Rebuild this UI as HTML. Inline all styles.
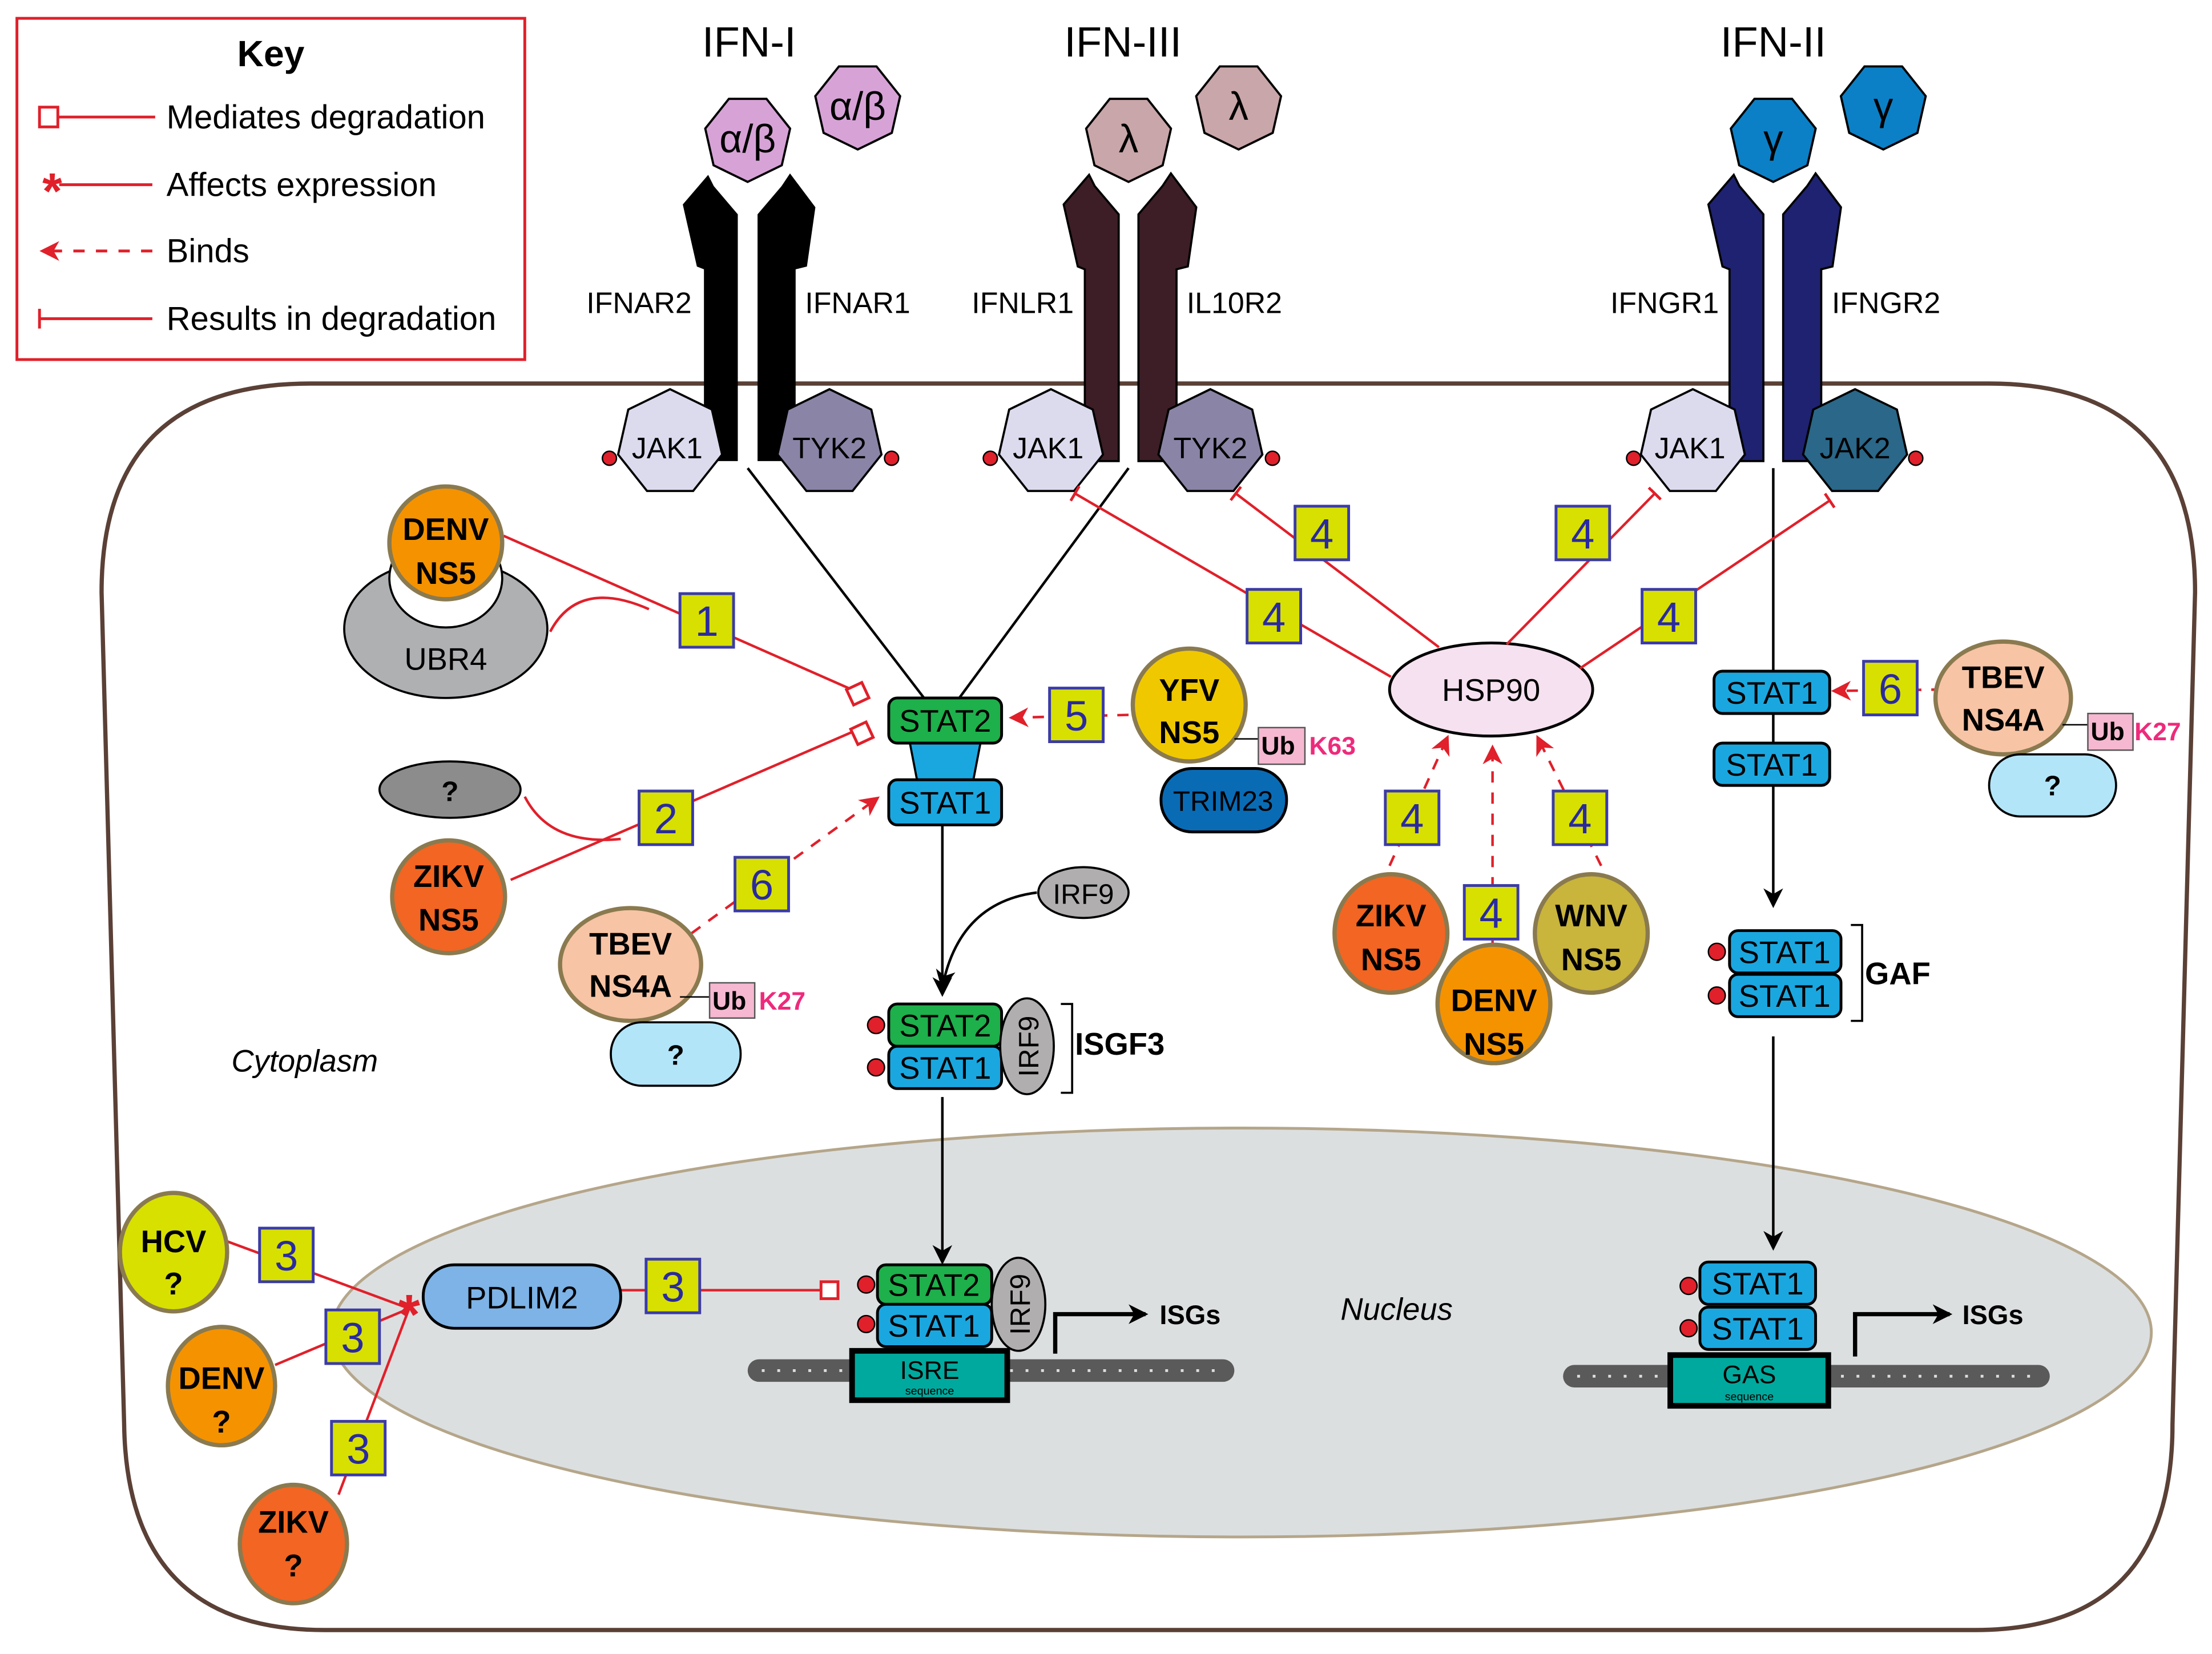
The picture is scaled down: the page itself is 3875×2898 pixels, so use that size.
<!DOCTYPE html>
<html><head><meta charset="utf-8"><style>
html,body{margin:0;padding:0;background:#fff;}
svg{display:block;}
text{font-family:"Liberation Sans",sans-serif;}
</style></head><body>
<svg width="3875" height="2898" viewBox="0 0 1568 1173" preserveAspectRatio="none" xmlns="http://www.w3.org/2000/svg">
<defs>
<polygon id="hep" points="0,-1 0.78,-0.62 0.97,0.22 0.43,0.9 -0.43,0.9 -0.97,0.22 -0.78,-0.62"/>
<marker id="ahr" viewBox="0 0 14 14" markerWidth="14" markerHeight="14" refX="12" refY="7" orient="auto" markerUnits="userSpaceOnUse"><path d="M0,0 L14,7 L0,14 L4,7 Z" fill="#e0202a"/></marker>
<marker id="ab" viewBox="0 0 14 14" markerWidth="14" markerHeight="14" refX="12" refY="7" orient="auto" markerUnits="userSpaceOnUse"><path d="M0,0 L14,7 L0,14 L4,7 Z" fill="#000"/></marker>
<marker id="tb" viewBox="0 0 2 12" markerWidth="2" markerHeight="12" refX="1" refY="6" orient="auto" markerUnits="userSpaceOnUse"><rect x="0" y="0" width="2" height="12" fill="#e0202a"/></marker>
</defs>

<!-- Key -->
<rect x="12" y="13" width="360" height="242" fill="#fff" stroke="#e0202a" stroke-width="2"/>
<text x="192" y="47" font-size="26" font-weight="bold" text-anchor="middle">Key</text>
<rect x="28" y="76" width="13" height="14" fill="#fff" stroke="#e0202a" stroke-width="2"/>
<line x1="41" y1="83" x2="110" y2="83" stroke="#e0202a" stroke-width="2"/>
<text x="118" y="91" font-size="23.5">Mediates degradation</text>
<text x="37" y="148" font-size="36" fill="#e0202a" text-anchor="middle" font-weight="bold">*</text>
<line x1="42" y1="131" x2="108" y2="131" stroke="#e0202a" stroke-width="2"/>
<text x="118" y="139" font-size="23.5">Affects expression</text>
<line x1="108" y1="178" x2="30" y2="178" stroke="#e0202a" stroke-width="2" stroke-dasharray="8,8" marker-end="url(#ahr)"/>
<text x="118" y="186" font-size="23.5">Binds</text>
<line x1="28" y1="219" x2="28" y2="233" stroke="#e0202a" stroke-width="2"/>
<line x1="28" y1="226" x2="108" y2="226" stroke="#e0202a" stroke-width="2"/>
<text x="118" y="234" font-size="23.5">Results in degradation</text>

<!-- Cell -->
<path d="M 220 272 L 1410 272 Q 1556 272 1556 420 L 1540 1010 Q 1540 1156 1400 1156 L 230 1156 Q 90 1156 88 1010 L 72 420 Q 72 272 220 272 Z" fill="#fff" stroke="#5a4036" stroke-width="3"/>
<ellipse cx="880" cy="945" rx="645" ry="145" fill="#dcdfe0" stroke="#b5a68a" stroke-width="2"/>

<!-- IFN labels -->
<text x="531" y="40" font-size="30" text-anchor="middle">IFN-I</text>
<text x="796" y="40" font-size="30" text-anchor="middle">IFN-III</text>
<text x="1257" y="40" font-size="30" text-anchor="middle">IFN-II</text>

<!-- Ligands -->
<g stroke="#000" stroke-width="0.05">
<use href="#hep" transform="translate(530,98) scale(31,-31)" fill="#d7a3d7"/>
<use href="#hep" transform="translate(608,75) scale(31,-31)" fill="#d7a3d7"/>
<use href="#hep" transform="translate(800,98) scale(31,-31)" fill="#c9a6a9"/>
<use href="#hep" transform="translate(878,75) scale(31,-31)" fill="#c9a6a9"/>
<use href="#hep" transform="translate(1257,98) scale(31,-31)" fill="#0b80c6"/>
<use href="#hep" transform="translate(1335,75) scale(31,-31)" fill="#0b80c6"/>
</g>
<g font-size="28" text-anchor="middle">
<text x="530" y="108" font-family="Liberation Serif">α/β</text>
<text x="608" y="85" font-family="Liberation Serif">α/β</text>
<text x="800" y="108" font-family="Liberation Serif">λ</text>
<text x="878" y="85" font-family="Liberation Serif">λ</text>
<text x="1257" y="108" font-family="Liberation Serif">γ</text>
<text x="1335" y="85" font-family="Liberation Serif">γ</text>
</g>

<!-- Receptors -->
<polygon points="-46,145 -28,124 -24,132 -7,152 -7,327 -31,327 -31,191 -36,189" transform="translate(530,0)" fill="#000"/>
<polygon points="7,152 24,132 30,123 48,147 42,189 34,191 34,327 7,327" transform="translate(530,0)" fill="#000"/>
<polygon points="-46,145 -28,124 -24,132 -7,152 -7,327 -31,327 -31,191 -36,189" transform="translate(800,0)" fill="#3d1e26" stroke="#000" stroke-width="1.5"/>
<polygon points="7,152 24,132 30,123 48,147 42,189 34,191 34,327 7,327" transform="translate(800,0)" fill="#3d1e26" stroke="#000" stroke-width="1.5"/>
<polygon points="-46,145 -28,124 -24,132 -7,152 -7,327 -31,327 -31,191 -36,189" transform="translate(1257,0)" fill="#1e2270" stroke="#000" stroke-width="1.5"/>
<polygon points="7,152 24,132 30,123 48,147 42,189 34,191 34,327 7,327" transform="translate(1257,0)" fill="#1e2270" stroke="#000" stroke-width="1.5"/>
<g font-size="21">
<text x="453" y="222" text-anchor="middle">IFNAR2</text>
<text x="608" y="222" text-anchor="middle">IFNAR1</text>
<text x="725" y="222" text-anchor="middle">IFNLR1</text>
<text x="875" y="222" text-anchor="middle">IL10R2</text>
<text x="1180" y="222" text-anchor="middle">IFNGR1</text>
<text x="1337" y="222" text-anchor="middle">IFNGR2</text>
</g>

<!-- JAKs -->
<g stroke="#000" stroke-width="0.04">
<use href="#hep" transform="translate(475,314) scale(38)" fill="#dcdbee"/>
<use href="#hep" transform="translate(588,314) scale(38)" fill="#8a84a6"/>
<use href="#hep" transform="translate(745,314) scale(38)" fill="#dcdbee"/>
<use href="#hep" transform="translate(858,314) scale(38)" fill="#8a84a6"/>
<use href="#hep" transform="translate(1200,314) scale(38)" fill="#dcdbee"/>
<use href="#hep" transform="translate(1315,314) scale(38)" fill="#2a6788"/>
</g>
<g font-size="21" text-anchor="middle">
<text x="473" y="325">JAK1</text><text x="588" y="325">TYK2</text>
<text x="743" y="325">JAK1</text><text x="858" y="325">TYK2</text>
<text x="1198" y="325">JAK1</text><text x="1315" y="325">JAK2</text>
</g>
<g fill="#e0202a" stroke="#000" stroke-width="1">
<circle cx="432" cy="325" r="5"/><circle cx="632" cy="325" r="5"/>
<circle cx="702" cy="325" r="5"/><circle cx="902" cy="325" r="5"/>
<circle cx="1158" cy="325" r="5"/><circle cx="1358" cy="325" r="5"/>
</g>

<!-- black signaling lines -->
<g stroke="#000" stroke-width="1.8" fill="none">
<line x1="530" y1="332" x2="655" y2="495"/>
<line x1="800" y1="332" x2="680" y2="495"/>
<line x1="668" y1="585" x2="668" y2="705" marker-end="url(#ab)"/>
<path d="M735,633 Q680,640 668,700" marker-end="url(#ab)"/>
<line x1="668" y1="778" x2="668" y2="895" marker-end="url(#ab)"/>
<line x1="1257" y1="332" x2="1257" y2="642" marker-end="url(#ab)"/>
<line x1="1257" y1="735" x2="1257" y2="885" marker-end="url(#ab)"/>
</g>

<!-- STAT2 / STAT1 cytoplasm -->
<polygon points="645,527 695,527 690,553 650,553" fill="#1aa7e0" stroke="#000" stroke-width="1.5"/>
<rect x="630" y="495" width="80" height="32" rx="6" fill="#1db04b" stroke="#000" stroke-width="2"/>
<rect x="630" y="553" width="80" height="32" rx="6" fill="#1aa7e0" stroke="#000" stroke-width="2"/>
<text x="670" y="519" font-size="22" text-anchor="middle">STAT2</text>
<text x="670" y="577" font-size="22" text-anchor="middle">STAT1</text>
<ellipse cx="768" cy="633" rx="32" ry="18" fill="#b0aeae" stroke="#000" stroke-width="1.5"/>
<text x="768" y="641" font-size="20" text-anchor="middle">IRF9</text>

<!-- ISGF3 -->
<rect x="630" y="712" width="80" height="30" rx="6" fill="#1db04b" stroke="#000" stroke-width="2"/>
<rect x="630" y="742" width="80" height="30" rx="6" fill="#1aa7e0" stroke="#000" stroke-width="2"/>
<text x="670" y="735" font-size="22" text-anchor="middle">STAT2</text>
<text x="670" y="765" font-size="22" text-anchor="middle">STAT1</text>
<ellipse cx="728" cy="742" rx="19" ry="34" fill="#b0aeae" stroke="#000" stroke-width="1.5"/>
<text transform="translate(736,742) rotate(-90)" font-size="20" text-anchor="middle">IRF9</text>
<circle cx="621" cy="727" r="6" fill="#e0202a" stroke="#000"/><circle cx="621" cy="757" r="6" fill="#e0202a" stroke="#000"/>
<path d="M752,712 L760,712 L760,775 L752,775" fill="none" stroke="#000" stroke-width="1.5"/>
<text x="762" y="748" font-size="22" font-weight="bold">ISGF3</text>

<!-- DNA -->
<g fill="#5a5a5a">
<rect x="530" y="964" width="345" height="16" rx="8"/>
<rect x="1108" y="968" width="345" height="16" rx="8"/>
</g>
<g stroke="#ddd" stroke-width="2">
<path d="M540,972 h330 M1118,976 h330" stroke-dasharray="2,9"/>
</g>

<!-- nucleus ISGF3 -->
<rect x="622" y="897" width="81" height="28" rx="6" fill="#1db04b" stroke="#000" stroke-width="2"/>
<rect x="622" y="925" width="81" height="30" rx="6" fill="#1aa7e0" stroke="#000" stroke-width="2"/>
<text x="662" y="919" font-size="22" text-anchor="middle">STAT2</text>
<text x="662" y="948" font-size="22" text-anchor="middle">STAT1</text>
<ellipse cx="722" cy="925" rx="19" ry="33" fill="#b0aeae" stroke="#000" stroke-width="1.5"/>
<text transform="translate(730,925) rotate(-90)" font-size="20" text-anchor="middle">IRF9</text>
<circle cx="614" cy="911" r="6" fill="#e0202a" stroke="#000"/><circle cx="614" cy="939" r="6" fill="#e0202a" stroke="#000"/>
<rect x="604" y="958" width="110" height="35" fill="#00a99d" stroke="#000" stroke-width="4"/>
<text x="659" y="978" font-size="18" text-anchor="middle">ISRE</text>
<text x="659" y="989" font-size="8" text-anchor="middle">sequence</text>
<path d="M748,960 L748,932 L812,932" fill="none" stroke="#000" stroke-width="3" marker-end="url(#ab)"/>
<text x="822" y="939" font-size="19" font-weight="bold">ISGs</text>

<!-- GAS side -->
<rect x="1205" y="895" width="82" height="30" rx="6" fill="#1aa7e0" stroke="#000" stroke-width="2"/>
<rect x="1205" y="927" width="82" height="30" rx="6" fill="#1aa7e0" stroke="#000" stroke-width="2"/>
<text x="1246" y="918" font-size="22" text-anchor="middle">STAT1</text>
<text x="1246" y="950" font-size="22" text-anchor="middle">STAT1</text>
<circle cx="1197" cy="912" r="6" fill="#e0202a" stroke="#000"/><circle cx="1197" cy="942" r="6" fill="#e0202a" stroke="#000"/>
<rect x="1184" y="961" width="112" height="36" fill="#00a99d" stroke="#000" stroke-width="4"/>
<text x="1240" y="981" font-size="18" text-anchor="middle">GAS</text>
<text x="1240" y="993" font-size="8" text-anchor="middle">sequence</text>
<path d="M1315,962 L1315,932 L1382,932" fill="none" stroke="#000" stroke-width="3" marker-end="url(#ab)"/>
<text x="1391" y="939" font-size="19" font-weight="bold">ISGs</text>

<!-- GAF -->
<rect x="1226" y="660" width="79" height="30" rx="6" fill="#1aa7e0" stroke="#000" stroke-width="2"/>
<rect x="1226" y="691" width="79" height="30" rx="6" fill="#1aa7e0" stroke="#000" stroke-width="2"/>
<text x="1265" y="683" font-size="22" text-anchor="middle">STAT1</text>
<text x="1265" y="714" font-size="22" text-anchor="middle">STAT1</text>
<circle cx="1217" cy="675" r="6" fill="#e0202a" stroke="#000"/><circle cx="1217" cy="706" r="6" fill="#e0202a" stroke="#000"/>
<path d="M1312,656 L1320,656 L1320,724 L1312,724" fill="none" stroke="#000" stroke-width="1.5"/>
<text x="1322" y="698" font-size="22" font-weight="bold">GAF</text>

<!-- unphos STAT1 right -->
<rect x="1215" y="476" width="82" height="30" rx="6" fill="#1aa7e0" stroke="#000" stroke-width="2"/>
<rect x="1215" y="527" width="82" height="30" rx="6" fill="#1aa7e0" stroke="#000" stroke-width="2"/>
<text x="1256" y="499" font-size="22" text-anchor="middle">STAT1</text>
<text x="1256" y="550" font-size="22" text-anchor="middle">STAT1</text>

<!-- HSP90 -->
<ellipse cx="1057" cy="489" rx="72" ry="33" fill="#f5e1ef" stroke="#000" stroke-width="2"/>
<text x="1057" y="497" font-size="22" text-anchor="middle">HSP90</text>

<!-- red lines -->
<g stroke="#e0202a" stroke-width="1.8" fill="none">
<line x1="986" y1="480" x2="762" y2="350" marker-end="url(#tb)"/>
<line x1="1020" y1="459" x2="876" y2="350" marker-end="url(#tb)"/>
<line x1="1068" y1="457" x2="1173" y2="350" marker-end="url(#tb)"/>
<line x1="1120" y1="474" x2="1297" y2="355" marker-end="url(#tb)"/>
<line x1="357" y1="380" x2="606" y2="490"/>
<path d="M390,448 Q410,410 460,432"/>
<line x1="362" y1="624" x2="609" y2="517"/>
<path d="M372,565 Q390,600 440,595"/>
<path d="M160,880 L290,928"/>
<path d="M195,968 L290,928"/>
<path d="M240,1060 L290,928"/>
<line x1="440" y1="915" x2="582" y2="915"/>
</g>
<rect x="602" y="486" width="12" height="12" fill="#fff" stroke="#e0202a" stroke-width="2" transform="rotate(-25 608 492)"/>
<rect x="605" y="514" width="12" height="12" fill="#fff" stroke="#e0202a" stroke-width="2" transform="rotate(-25 611 520)"/>
<rect x="582" y="909" width="12" height="12" fill="#fff" stroke="#e0202a" stroke-width="2"/>

<!-- dashed binds -->
<g stroke="#e0202a" stroke-width="1.8" fill="none" stroke-dasharray="8,7">
<line x1="800" y1="507" x2="717" y2="509" marker-end="url(#ahr)"/>
<line x1="490" y1="662" x2="622" y2="566" marker-end="url(#ahr)"/>
<line x1="1377" y1="489" x2="1300" y2="490" marker-end="url(#ahr)"/>
<line x1="985" y1="614" x2="1026" y2="523" marker-end="url(#ahr)"/>
<line x1="1058" y1="690" x2="1058" y2="530" marker-end="url(#ahr)"/>
<line x1="1135" y1="614" x2="1090" y2="523" marker-end="url(#ahr)"/>
</g>

<text x="290" y="946" font-size="40" fill="#e0202a" text-anchor="middle" font-weight="bold">*</text>

<!-- viruses -->
<ellipse cx="316" cy="446" rx="72" ry="49" fill="#aeb0b2" stroke="#000" stroke-width="1.5"/>
<ellipse cx="316" cy="410" rx="40" ry="35" fill="#fff" stroke="#000" stroke-width="1.5"/>
<text x="316" y="475" font-size="22" text-anchor="middle">UBR4</text>
<g stroke="#8a7a50" stroke-width="3">
<circle cx="316" cy="385" r="40" fill="#f59200"/>
<circle cx="318" cy="636" r="40" fill="#f26522"/>
<ellipse cx="447" cy="684" rx="50" ry="40" fill="#f7c4a5"/>
<circle cx="843" cy="500" r="40" fill="#f0c800"/>
<ellipse cx="1420" cy="495" rx="48" ry="40" fill="#f7c4a5"/>
<ellipse cx="986" cy="662" rx="40" ry="42" fill="#f26522"/>
<ellipse cx="1059" cy="712" rx="40" ry="42" fill="#f59200"/>
<ellipse cx="1128" cy="662" rx="40" ry="42" fill="#c9b43c"/>
<ellipse cx="123" cy="888" rx="38" ry="42" fill="#d8e000"/>
<ellipse cx="157" cy="983" rx="38" ry="42" fill="#f59200"/>
<ellipse cx="208" cy="1095" rx="38" ry="42" fill="#f26522"/>
</g>
<g font-size="22" font-weight="bold" text-anchor="middle">
<text x="316" y="383">DENV</text><text x="316" y="414">NS5</text>
<text x="318" y="629">ZIKV</text><text x="318" y="660">NS5</text>
<text x="447" y="677">TBEV</text><text x="447" y="707">NS4A</text>
<text x="843" y="497">YFV</text><text x="843" y="527">NS5</text>
<text x="1420" y="488">TBEV</text><text x="1420" y="518">NS4A</text>
<text x="986" y="657">ZIKV</text><text x="986" y="688">NS5</text>
<text x="1059" y="717">DENV</text><text x="1059" y="748">NS5</text>
<text x="1128" y="657">WNV</text><text x="1128" y="688">NS5</text>
<text x="123" y="888">HCV</text><text x="123" y="918">?</text>
<text x="157" y="985">DENV</text><text x="157" y="1016">?</text>
<text x="208" y="1087">ZIKV</text><text x="208" y="1118">?</text>
</g>

<ellipse cx="319" cy="560" rx="50" ry="20" fill="#8c8c8c" stroke="#000" stroke-width="1.5"/>
<text x="319" y="568" font-size="20" font-weight="bold" text-anchor="middle">?</text>
<rect x="433" y="725" width="92" height="45" rx="22" fill="#b3e5f9" stroke="#000" stroke-width="1.5"/>
<text x="479" y="755" font-size="20" font-weight="bold" text-anchor="middle">?</text>
<rect x="1410" y="535" width="90" height="44" rx="22" fill="#b3e5f9" stroke="#000" stroke-width="1.5"/>
<text x="1455" y="564" font-size="20" font-weight="bold" text-anchor="middle">?</text>
<rect x="823" y="545" width="89" height="45" rx="22" fill="#0a6bb5" stroke="#000" stroke-width="2"/>
<text x="867" y="575" font-size="20" text-anchor="middle">TRIM23</text>
<g stroke="#000" stroke-width="1">
<line x1="482" y1="707" x2="503" y2="707"/><line x1="875" y1="524" x2="892" y2="524"/><line x1="1462" y1="514" x2="1480" y2="514"/>
</g>
<g fill="#f5b8d0" stroke="#555" stroke-width="1">
<rect x="503" y="697" width="32" height="25"/><rect x="892" y="516" width="33" height="26"/><rect x="1480" y="506" width="32" height="26"/>
</g>
<g font-size="18" font-weight="bold">
<text x="505" y="716">Ub</text><text x="894" y="535">Ub</text><text x="1482" y="525">Ub</text>
<text x="538" y="716" fill="#ee2a7b">K27</text><text x="928" y="535" fill="#ee2a7b">K63</text><text x="1513" y="525" fill="#ee2a7b">K27</text>
</g>

<rect x="300" y="897" width="140" height="45" rx="22" fill="#7db3e6" stroke="#000" stroke-width="2"/>
<text x="370" y="928" font-size="22" text-anchor="middle">PDLIM2</text>

<g fill="#d7e000" stroke="#3b3ba8" stroke-width="2">
<rect x="482" y="421" width="38" height="38"/>
<rect x="453" y="561" width="38" height="38"/>
<rect x="744" y="488" width="38" height="38"/>
<rect x="521" y="608" width="38" height="38"/>
<rect x="1321" y="469" width="38" height="38"/>
<rect x="918" y="359" width="38" height="38"/>
<rect x="884" y="418" width="38" height="38"/>
<rect x="1103" y="359" width="38" height="38"/>
<rect x="1164" y="418" width="38" height="38"/>
<rect x="982" y="561" width="38" height="38"/>
<rect x="1038" y="628" width="38" height="38"/>
<rect x="1101" y="561" width="38" height="38"/>
<rect x="184" y="871" width="38" height="38"/>
<rect x="231" y="929" width="38" height="38"/>
<rect x="235" y="1008" width="38" height="38"/>
<rect x="458" y="893" width="38" height="38"/>
</g>
<g font-size="30" fill="#2a2aa0" text-anchor="middle">
<text x="501" y="451">1</text><text x="472" y="591">2</text><text x="763" y="518">5</text>
<text x="540" y="638">6</text><text x="1340" y="499">6</text>
<text x="937" y="389">4</text><text x="903" y="448">4</text><text x="1122" y="389">4</text><text x="1183" y="448">4</text>
<text x="1001" y="591">4</text><text x="1057" y="658">4</text><text x="1120" y="591">4</text>
<text x="203" y="901">3</text><text x="250" y="959">3</text><text x="254" y="1038">3</text><text x="477" y="923">3</text>
</g>

<text x="216" y="760" font-size="22" font-style="italic" text-anchor="middle">Cytoplasm</text>
<text x="990" y="936" font-size="22" font-style="italic" text-anchor="middle">Nucleus</text>
</svg>
</body></html>
